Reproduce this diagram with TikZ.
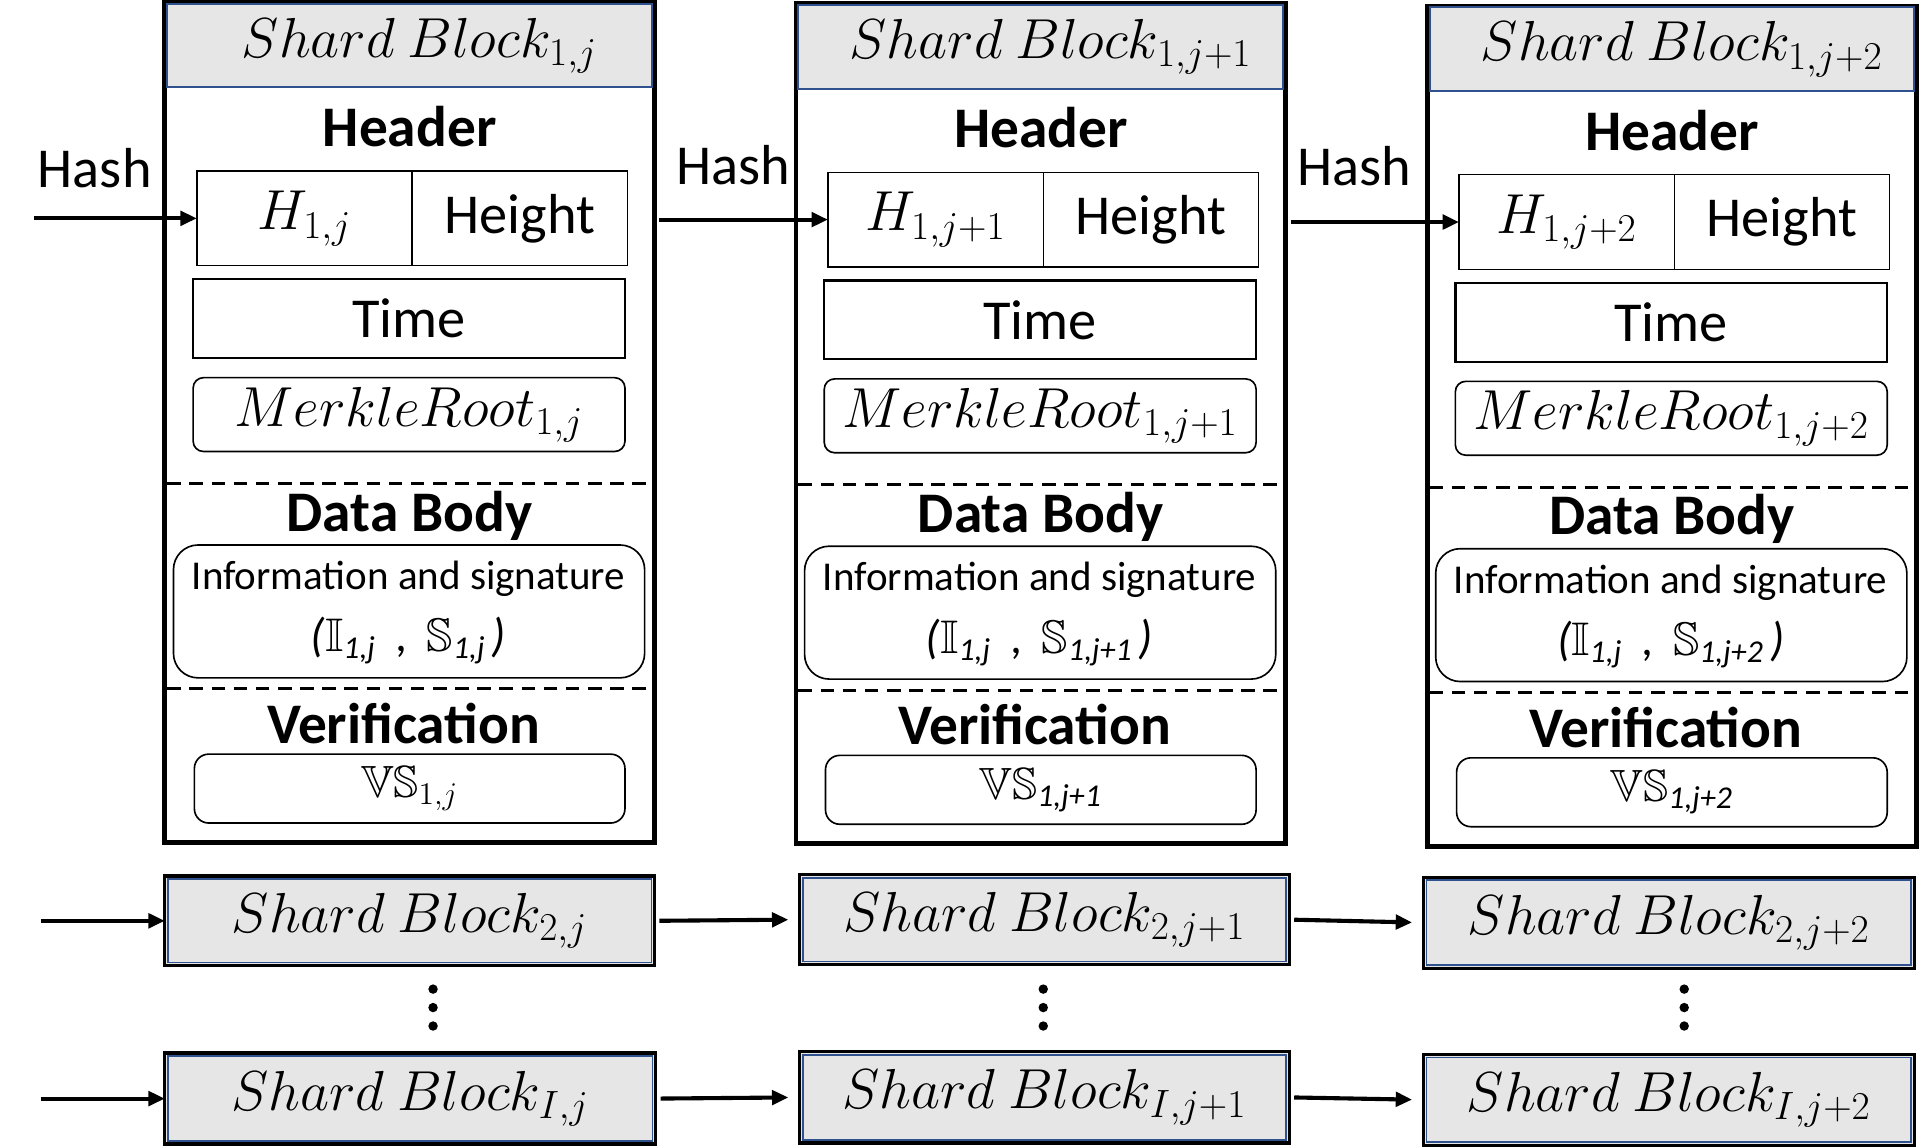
\RequirePackage{fix-cm}
\documentclass[tikz,border=0pt]{standalone}
\usepackage{amsmath,amssymb}
\usepackage{fontspec}
\setmainfont{Carlito}
\usetikzlibrary{arrows.meta}
\definecolor{tgray}{HTML}{E7E6E6}
\definecolor{tblue}{HTML}{2F528F}

\newcommand\bxnode[7]{\node[#2, inner sep=0pt, outer sep=0pt, minimum width={(#5-#3)*0.6pt}, minimum height={(#6-#4)*0.6pt}] (#1) at ({(#3+#5)/2},{(#4+#6)/2}) {#7};}
\newcommand\isub[1]{\text{\fontsize{15.5}{16}\selectfont\itshape #1}}

\tikzset{
  outerbox/.style={draw=black, line width=2.4pt},
  titlebar/.style={draw=tblue, fill=tgray, line width=1pt},
  cell/.style={draw=black, line width=0.7pt},
  timecell/.style={draw=black, line width=1.1pt},
  rcell/.style={draw=black, line width=0.8pt, rounded corners=5pt},
  icell/.style={draw=black, line width=0.8pt, rounded corners=12pt},
  vcell/.style={draw=black, line width=0.8pt, rounded corners=7pt},
  sbox/.style={draw=black, fill=tgray, line width=1.6pt},
  sepline/.style={line width=1.5pt, dash pattern=on 6.6pt off 4.2pt},
  arr/.style={line width=2pt, -{Triangle[length=8pt,width=7pt]}},
  headf/.style={font=\fontsize{28}{30}\selectfont\bfseries},
  txtf/.style={font=\fontsize{27.5}{30}\selectfont},
  infof/.style={font=\fontsize{20}{22}\selectfont, inner sep=0pt, align=center},
  mathf/.style={font=\fontsize{27.5}{30}\selectfont},
  symf/.style={font=\fontsize{22}{24}\selectfont},
  dotn/.style={circle, fill=black, inner sep=0pt, minimum size=4.6pt},
}

% #1 prefix, #2 dx, #3 dy, #4 title sub, #5 I sub, #6 S sub, #7 VS sub
\newcommand\shardblock[7]{%
 \begin{scope}[shift={(#2,#3)}]
  \bxnode{#1o}{outerbox}{0}{2}{398}{685}{}
  \bxnode{#1t}{titlebar}{2}{3}{396}{71}{}
  \node[mathf] (#1tt) at (207,37) {$Shard\ Block_{#4}$};
  \node[headf] (#1hd) at (199,103) {Header};
  \bxnode{#1hl}{cell,mathf}{26}{139}{201}{216}{$H_{#4}$}
  \bxnode{#1hr}{cell,txtf}{201}{139}{376}{216}{Height}
  \bxnode{#1tm}{timecell,txtf}{23}{227}{374}{291}{Time}
  \bxnode{#1mr}{rcell,mathf}{23}{307}{374}{367}{$MerkleRoot_{#4}$}
  \draw[sepline] (2,393) -- (397,393);
  \node[headf] (#1db) at (199,419) {Data Body};
  \bxnode{#1in}{icell}{7}{443}{390}{551}{}
  \node[infof] (#1it) at (198,498) {Information and signature\\[8.5pt]{\fontsize{23}{25}\selectfont\textit{(}$\mathbb{I}_{\isub{#5}}$\hspace{10pt}\textit{,}\hspace{9pt}$\mathbb{S}_{\isub{#6}}$\hspace{3pt}\textit{)}}};
  \draw[sepline] (2,560) -- (397,560);
  \node[headf] (#1vf) at (194,588) {Verification};
  \bxnode{#1vs}{vcell,symf}{24}{613}{374}{669}{$\mathbb{V}\mathbb{S}_{#7}$}
 \end{scope}}

\begin{document}
\begin{tikzpicture}[x=0.6pt, y=-0.6pt]
\useasboundingbox (0,0) rectangle (1568,933);

\shardblock{A}{134}{0}{1,j}{1,j}{1,j}{1,j}
\shardblock{B}{647}{1}{1,j+1}{1,j}{1,j+1}{\isub{1,j+1}}
\shardblock{C}{1160}{3}{1,j+2}{1,j}{1,j+2}{\isub{1,j+2}}

% Hash labels and arrows
\node[txtf] (hA) at (77,137) {Hash};
\node[txtf] (hB) at (596,134) {Hash};
\node[txtf] (hC) at (1101,135) {Hash};
\coordinate (inA) at (28,177.5);
\draw[arr] (inA) -- (Ahl.west);
\draw[arr, shorten <=2.4pt] (Ao.east |- Bhl.west) -- (Bhl.west);
\draw[arr, shorten <=2.4pt] (Bo.east |- Chl.west) -- (Chl.west);

% lower shard rows
\bxnode{A2}{sbox,mathf}{134}{712}{532}{785}{$Shard\ Block_{2,j}$}
\bxnode{B2}{sbox,mathf}{650}{711}{1048}{784}{$Shard\ Block_{2,j+1}$}
\bxnode{C2}{sbox,mathf}{1157}{713}{1556}{787}{$Shard\ Block_{2,j+2}$}
\bxnode{AI}{sbox,mathf}{134}{856}{533}{930}{$Shard\ Block_{I,j}$}
\bxnode{BI}{sbox,mathf}{650}{855}{1048}{929}{$Shard\ Block_{I,j+1}$}
\bxnode{CI}{sbox,mathf}{1157}{857}{1556}{931}{$Shard\ Block_{I,j+2}$}
\foreach \n in {A2,B2,C2,AI,BI,CI}{
  \draw[tblue, line width=0.8pt] ([shift={(1.5pt,-1.5pt)}]\n.north west) rectangle ([shift={(-1.5pt,1.5pt)}]\n.south east);
}

\coordinate (in2) at (33,748.5);
\coordinate (inI) at (33,893);
\draw[arr] (in2) -- (A2.west);
\draw[arr] (inI) -- (AI.west);
\draw[arr, shorten <=2.4pt, shorten >=5.5pt] (A2.east) -- (B2.west);
\draw[arr, shorten <=2.4pt, shorten >=5.5pt] (B2.east) -- (C2.west);
\draw[arr, shorten <=2.4pt, shorten >=5.5pt] (AI.east) -- (BI.west);
\draw[arr, shorten <=2.4pt, shorten >=5.5pt] (BI.east) -- (CI.west);

% vertical ellipses
\foreach \x/\p in {352/a,848/b,1369/c}{
  \node[dotn] (d\p1) at (\x,804) {};
  \node[dotn] (d\p2) at (\x,819) {};
  \node[dotn] (d\p3) at (\x,834) {};
}
\end{tikzpicture}
\end{document}
